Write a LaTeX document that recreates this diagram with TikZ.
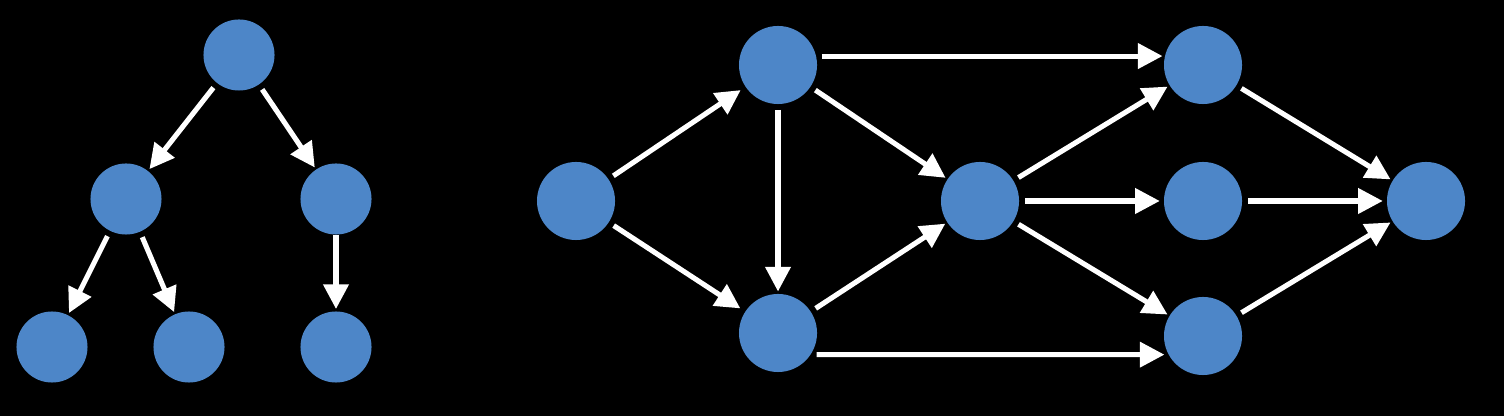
\documentclass[tikz,border=0pt]{standalone}
\usetikzlibrary{arrows.meta}
\definecolor{nodeblue}{HTML}{4D86C8}
\begin{document}
\begin{tikzpicture}[x=0.01cm,y=-0.01cm,
        smallvert/.style={circle,fill=nodeblue,inner sep=0pt,minimum size=7.1mm},
        bigvert/.style={circle,fill=nodeblue,inner sep=0pt,minimum size=7.8mm},
        edge/.style={draw=white,line width=1.45pt,-{Triangle[length=7pt,width=7pt]},shorten <=1.5pt,shorten >=0.5pt}]
        % Background
        \fill[black] (0,0) rectangle (1504,416);

        % Draw the tree
        \node[smallvert] (root) at (239,55) {};
        \node[smallvert] (l) at (126,199) {};
        \node[smallvert] (r) at (336,199) {};
        \node[smallvert] (ll) at (52,347) {};
        \node[smallvert] (lr) at (189,347) {};
        \node[smallvert] (rr) at (336,347) {};

        \draw[edge] (root) -- (l);
        \draw[edge] (root) -- (r);
        \draw[edge] (l) -- (ll);
        \draw[edge] (l) -- (lr);
        \draw[edge,shorten <=0pt] (r) -- (rr);

        % Draw the DAG
        \node[bigvert] (a) at (576,201) {};
        \node[bigvert] (b) at (778,65) {};
        \node[bigvert] (c) at (778,333) {};
        \node[bigvert] (d) at (980,201) {};
        \node[bigvert] (e) at (1203,65) {};
        \node[bigvert] (f) at (1203,201) {};
        \node[bigvert] (g) at (1203,336) {};
        \node[bigvert] (h) at (1426,201) {};

        \draw[edge,shorten >=1.5pt] (a) -- (b);
        \draw[edge,shorten >=1.5pt] (a) -- (c);
        \draw[edge] (b.south) -- (c.north);
        \draw[edge] (b) -- (d);
        \draw[edge] (b.13) -- (e.167);
        \draw[edge] (c) -- (d);
        \draw[edge,shorten >=1pt] (c.-33) -- (g.-152);
        \draw[edge] (d) -- (e);
        \draw[edge,shorten <=1.5pt,shorten >=1pt] (d) -- (f);
        \draw[edge] (d) -- (g);
        \draw[edge] (e) -- (h);
        \draw[edge,shorten >=1pt] (f) -- (h);
        \draw[edge] (g) -- (h);
    \end{tikzpicture}
\end{document}
